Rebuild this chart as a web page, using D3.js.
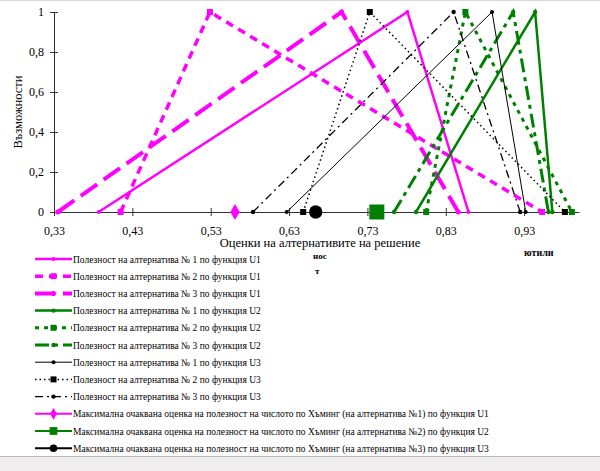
<!DOCTYPE html>
<html>
<head>
<meta charset="utf-8">
<script src="https://cdn.jsdelivr.net/npm/d3@7.9.0/dist/d3.min.js"></script>
<style>
  body { margin: 0; background: #fff; }
  svg { display: block; font-family: "Liberation Serif", "Times New Roman", serif; }
</style>
</head>
<body>
<svg id="chart" width="600" height="471"></svg>
<script>
// tick values
const xTicks = [0.33, 0.43, 0.53, 0.63, 0.73, 0.83, 0.93];
const yTicks = [0, 0.2, 0.4, 0.6, 0.8, 1];

// triangular numbers: left, peak, right (membership 0 -> 1 -> 0)
const membership = [0, 1, 0];
const u1Alt1 = [0.387, 0.781, 0.859];
const u1Alt2 = [0.415, 0.529, 0.953];
const u1Alt3 = [0.335, 0.697, 0.846];
const u2Alt1 = [0.792, 0.944, 0.966];
const u2Alt2 = [0.805, 0.855, 0.991];
const u2Alt3 = [0.764, 0.916, 0.961];
const u3Alt1 = [0.627, 0.889, 0.932];
const u3Alt2 = [0.648, 0.733, 0.982];
const u3Alt3 = [0.584, 0.840, 0.925];

// max expected Hamming estimate per function
const hamming = [0.561, 0.742, 0.664];

const seriesNames = [
  "Полезност на алтернатива № 1 по функция U1",
  "Полезност на алтернатива № 2 по функция U1",
  "Полезност на алтернатива № 3 по функция U1",
  "Полезност на алтернатива № 1 по функция U2",
  "Полезност на алтернатива № 2 по функция U2",
  "Полезност на алтернатива № 3 по функция U2",
  "Полезност на алтернатива № 1 по функция U3",
  "Полезност на алтернатива № 2 по функция U3",
  "Полезност на алтернатива № 3 по функция U3",
  "Максимална очаквана оценка на полезност на числото по Хъминг (на алтернатива №1) по функция U1",
  "Максимална очаквана оценка на полезност на числото по Хъминг  (на алтернатива №2) по функция U2",
  "Максимална очаквана оценка на полезност на числото по Хъминг  (на алтернатива №3) по функция U3"
];

const MAG = "#ff00ff", GRN = "#008000", BLK = "#000000";

const series = [
  { vals: u1Alt1, color: MAG, width: 2.5, dash: null, marker: "dot", ms: 2 },
  { vals: u1Alt2, color: MAG, width: 3.5, dash: "8,6", marker: "square", ms: 3 },
  { vals: u1Alt3, color: MAG, width: 4, dash: "20,8", marker: "dot", ms: 2.5 },
  { vals: u2Alt1, color: GRN, width: 2.5, dash: null, marker: "dot", ms: 2.2 },
  { vals: u2Alt2, color: GRN, width: 3, dash: "4,5", marker: "square", ms: 3 },
  { vals: u2Alt3, color: GRN, width: 3, dash: "14,5,4,5", marker: "dot", ms: 2.2 },
  { vals: u3Alt1, color: BLK, width: 1, dash: null, marker: "dot", ms: 2 },
  { vals: u3Alt2, color: BLK, width: 1.5, dash: "1.5,3", marker: "square", ms: 3 },
  { vals: u3Alt3, color: BLK, width: 1.3, dash: "8,4,2,4", marker: "dot", ms: 2.2 }
];

const hammingStyle = [
  { color: MAG, symbol: d3.symbolDiamond, size: 75, lsize: 40 },
  { color: GRN, symbol: d3.symbolSquare, size: 225, lsize: 60 },
  { color: BLK, symbol: d3.symbolCircle, size: 140, lsize: 45 }
];

const svg = d3.select("#chart");

// frame bits of the original screenshot
svg.append("line").attr("x1", 0).attr("x2", 600).attr("y1", 0.5).attr("y2", 0.5)
  .attr("stroke", "#d8d8d8");
svg.append("rect").attr("x", 0).attr("y", 456).attr("width", 600).attr("height", 15)
  .attr("fill", "#f0eeee");
svg.append("line").attr("x1", 0).attr("x2", 600).attr("y1", 456.5).attr("y2", 456.5)
  .attr("stroke", "#b8b8b8");

const x = d3.scaleLinear().domain([0.33, 1.0]).range([54, 579]);
const y = d3.scaleLinear().domain([0, 1]).range([212, 12]);
const fmt = d => String(+d.toFixed(2)).replace(".", ",");

// y axis
const yAxis = svg.append("g").attr("transform", `translate(${x(0.33)},0)`)
  .call(d3.axisLeft(y).tickValues(yTicks).tickFormat(fmt).tickSize(4).tickPadding(6).tickSizeOuter(0));
yAxis.selectAll(".tick line").attr("x2", 4).attr("x1", -4).attr("stroke", "#333");
yAxis.select(".domain").attr("stroke", "#333");
yAxis.selectAll("text").style("font-size", "12px").style("font-family", "Liberation Serif").attr("fill", "#000");

// x axis
const xAxis = svg.append("g").attr("transform", `translate(0,${y(0)})`)
  .call(d3.axisBottom(x).tickValues(xTicks).tickFormat(fmt).tickSize(4).tickPadding(10).tickSizeOuter(0));
xAxis.selectAll(".tick line").attr("y1", -4).attr("y2", 4).attr("stroke", "#333");
xAxis.select(".domain").attr("stroke", "#333");
xAxis.selectAll("text").style("font-size", "12px").style("font-family", "Liberation Serif").attr("fill", "#000");

// axis titles
svg.append("text").attr("x", 320).attr("y", 247).attr("text-anchor", "middle")
  .style("font-size", "12.5px").text("Оценки на алтернативите на решение");
svg.append("text").attr("transform", "translate(22,112) rotate(-90)").attr("text-anchor", "middle")
  .style("font-size", "12.5px").text("Възможности");

// stray title fragments
svg.append("text").attr("x", 313).attr("y", 259).style("font-size", "9px").style("font-weight", "bold").text("нос");
svg.append("text").attr("x", 315).attr("y", 274).style("font-size", "9px").style("font-weight", "bold").text("т");
svg.append("text").attr("x", 524).attr("y", 256).style("font-size", "10px").style("font-weight", "bold").text("ютили");

const line = d3.line().x(d => x(d[0])).y(d => y(d[1]));

function drawMarker(g, type, cx, cy, ms, color) {
  if (type === "square") {
    g.append("rect").attr("x", cx - ms).attr("y", cy - ms).attr("width", ms * 2).attr("height", ms * 2)
      .attr("fill", color);
  } else {
    g.append("circle").attr("cx", cx).attr("cy", cy).attr("r", ms).attr("fill", color);
  }
}

const plot = svg.append("g");
series.forEach(s => {
  const pts = s.vals.map((v, i) => [v, membership[i]]);
  plot.append("path").datum(pts)
    .attr("fill", "none")
    .attr("stroke", s.color)
    .attr("stroke-width", s.width)
    .attr("stroke-dasharray", s.dash)
    .attr("d", line);
  pts.forEach(p => drawMarker(plot, s.marker, x(p[0]), y(p[1]), s.ms, s.color));
});

// Hamming markers
hamming.forEach((h, i) => {
  const st = hammingStyle[i];
  plot.append("path")
    .attr("transform", `translate(${x(h)},${y(0)})`)
    .attr("d", d3.symbol(st.symbol, st.size)())
    .attr("fill", st.color);
});

// legend
const legend = svg.append("g");
const rowY = i => 259 + i * 17.2;
seriesNames.forEach((name, i) => {
  const g = legend.append("g").attr("transform", `translate(0,${rowY(i)})`);
  if (i < series.length) {
    const s = series[i];
    g.append("line").attr("x1", 35).attr("x2", 72).attr("y1", 0).attr("y2", 0)
      .attr("stroke", s.color).attr("stroke-width", s.width)
      .attr("stroke-dasharray", s.dash);
    drawMarker(g, s.marker, 53.5, 0, s.ms, s.color);
  } else {
    const st = hammingStyle[i - series.length];
    g.append("line").attr("x1", 35).attr("x2", 72).attr("y1", 0).attr("y2", 0)
      .attr("stroke", st.color).attr("stroke-width", 2);
    g.append("path").attr("transform", "translate(53.5,0)")
      .attr("d", d3.symbol(st.symbol, st.lsize)()).attr("fill", st.color);
  }
  g.append("text").attr("transform", "translate(73,0) scale(0.95,1)").attr("dy", "0.35em")
    .style("font-size", "10px").text(name);
});
</script>
</body>
</html>
